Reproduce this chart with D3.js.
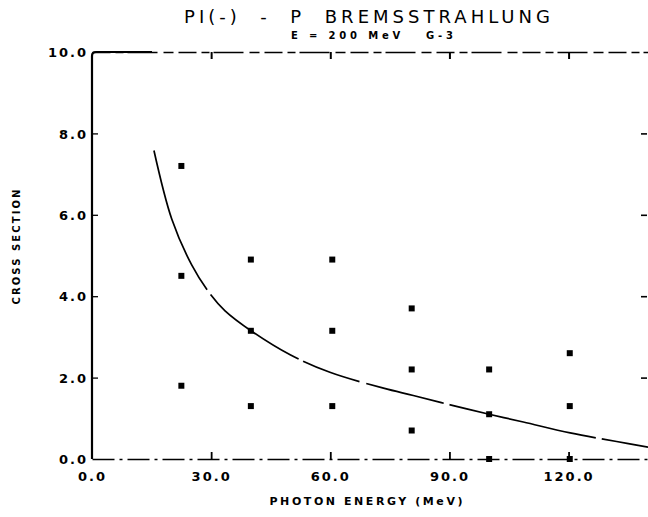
<!DOCTYPE html>
<html>
<head>
<meta charset="utf-8">
<script src="https://cdn.jsdelivr.net/npm/d3@7"></script>
<style>
  body { margin: 0; background: #fff; }
  svg { display: block; }
  text { fill: #000; }
</style>
</head>
<body>
<svg id="chart" width="648" height="517"></svg>
<script>
// Measured cross sections: three values at each photon energy
const markerEnergy = [22.5, 22.5, 22.5, 40, 40, 40, 60.5, 60.5, 60.5, 80.5, 80.5, 80.5, 100, 100, 100, 120.3, 120.3, 120.3];
const markerCross  = [7.2, 4.5, 1.8, 4.9, 3.15, 1.3, 4.9, 3.15, 1.3, 3.7, 2.2, 0.7, 2.2, 1.1, 0.0, 2.6, 1.3, 0.0];

// Calculated bremsstrahlung spectrum
const curveEnergy = [15.6, 20.1, 25.1, 29.7, 33.5, 40.2, 49.9, 59.9, 73.4, 80.9, 90.2, 100, 108.6, 120.4, 132.1, 140];
const curveCross  = [7.58, 5.89, 4.77, 4.06, 3.64, 3.14, 2.56, 2.13, 1.74, 1.56, 1.33, 1.10, 0.91, 0.64, 0.43, 0.29];

// Axis ticks and labels
const xTicks = [0, 30, 60, 90, 120];
const xTickLabels = ["0.0", "30.0", "60.0", "90.0", "120.0"];
const yTicks = [0, 2, 4, 6, 8, 10];
const yTickLabels = ["0.0", "2.0", "4.0", "6.0", "8.0", "10.0"];

const titleText = "PI(-)  -  P  BREMSSTRAHLUNG";
const subtitleText = "E = 200 MeV   G-3";
const xTitle = "PHOTON ENERGY (MeV)";
const yTitle = "CROSS SECTION";

const svg = d3.select("#chart");
const font = "'DejaVu Sans', 'Liberation Sans', sans-serif";

const x = d3.scaleLinear().domain([0, 140]).range([92, 648]);
const y = d3.scaleLinear().domain([0, 10]).range([459, 52]);

const plotLeft = x(0), plotRight = 647, plotTop = y(10), plotBottom = y(0);

// Bottom axis: inward ticks, labels below
const gx = svg.append("g")
  .attr("transform", `translate(0,${plotBottom})`)
  .call(d3.axisBottom(x).tickValues(xTicks)
    .tickFormat((d, i) => xTickLabels[i])
    .tickSizeInner(-7).tickSizeOuter(0).tickPadding(13));
gx.select(".domain").attr("stroke", "#000").attr("stroke-width", 1.6)
  .attr("stroke-dasharray", "22,5,3,5");
gx.selectAll(".tick line").attr("stroke", "#000").attr("stroke-width", 1.8)
  .filter(d => d === 0).remove();
gx.selectAll(".tick text")
  .attr("font-family", font).attr("font-size", 13).attr("font-weight", "bold")
  .attr("letter-spacing", "2px");

// Left axis
const gy = svg.append("g")
  .attr("transform", `translate(${plotLeft},0)`)
  .call(d3.axisLeft(y).tickValues(yTicks)
    .tickFormat((d, i) => yTickLabels[i])
    .tickSizeInner(-6).tickSizeOuter(0).tickPadding(4));
gy.select(".domain").remove();
gy.selectAll(".tick line").attr("stroke", "#000").attr("stroke-width", 1.3)
  .filter(d => d === 0 || d === 10).remove();
gy.selectAll(".tick text")
  .attr("font-family", font).attr("font-size", 13).attr("font-weight", "bold")
  .attr("letter-spacing", "2px").attr("dy", "0.36em");

// Left spine with rounded top corner
svg.append("path")
  .attr("d", `M${plotLeft},${plotBottom}V${plotTop + 4}Q${plotLeft},${plotTop} ${plotLeft + 4},${plotTop}H${plotLeft + 60}`)
  .attr("fill", "none").attr("stroke", "#000").attr("stroke-width", 2.2);

// Top axis: inward ticks, no labels
const gt = svg.append("g")
  .attr("transform", `translate(0,${plotTop})`)
  .call(d3.axisTop(x).tickValues([30, 60, 90, 120]).tickFormat("")
    .tickSizeInner(-7).tickSizeOuter(0));
gt.select(".domain").attr("stroke", "#000").attr("stroke-width", 1.6)
  .attr("stroke-dasharray", "18,5,8,4,30,6,10,5");
gt.selectAll(".tick line").attr("stroke", "#000").attr("stroke-width", 2);

// Right axis: inward ticks only
const gr = svg.append("g")
  .attr("transform", `translate(${plotRight},0)`)
  .call(d3.axisRight(y).tickValues([2, 4, 6, 8]).tickFormat("")
    .tickSizeInner(-6).tickSizeOuter(0));
gr.select(".domain").remove();
gr.selectAll(".tick line").attr("stroke", "#000").attr("stroke-width", 1.6);

// Theory curve
const line = d3.line()
  .x((d, i) => x(curveEnergy[i]))
  .y((d, i) => y(curveCross[i]))
  .curve(d3.curveCatmullRom.alpha(0.5));
svg.append("path")
  .datum(curveEnergy)
  .attr("d", line)
  .attr("fill", "none")
  .attr("stroke", "#000")
  .attr("stroke-width", 1.7)
  .attr("stroke-dasharray", "150,6,110,5,60,7,80,6");

// Data markers
svg.append("g").selectAll("path")
  .data(markerEnergy)
  .join("path")
  .attr("transform", (d, i) => `translate(${x(d)},${y(markerCross[i])})`)
  .attr("d", d3.symbol(d3.symbolSquare, 36))
  .attr("fill", "#000");

// Titles
svg.append("text")
  .attr("x", 367).attr("y", 23)
  .attr("text-anchor", "middle")
  .attr("font-family", font).attr("font-size", 18)
  .attr("textLength", 366).attr("lengthAdjust", "spacing")
  .style("white-space", "pre")
  .text(titleText);

svg.append("text")
  .attr("x", 372).attr("y", 39)
  .attr("text-anchor", "middle")
  .attr("font-family", font).attr("font-size", 10).attr("font-weight", "bold")
  .attr("textLength", 162).attr("lengthAdjust", "spacing")
  .style("white-space", "pre")
  .text(subtitleText);

svg.append("text")
  .attr("x", 366).attr("y", 505)
  .attr("text-anchor", "middle")
  .attr("font-family", font).attr("font-size", 11).attr("font-weight", "bold")
  .attr("textLength", 193).attr("lengthAdjust", "spacing")
  .text(xTitle);

svg.append("text")
  .attr("transform", "translate(20,247) rotate(-90)")
  .attr("text-anchor", "middle")
  .attr("font-family", font).attr("font-size", 10).attr("font-weight", "bold")
  .attr("textLength", 115).attr("lengthAdjust", "spacing")
  .text(yTitle);
</script>
</body>
</html>
